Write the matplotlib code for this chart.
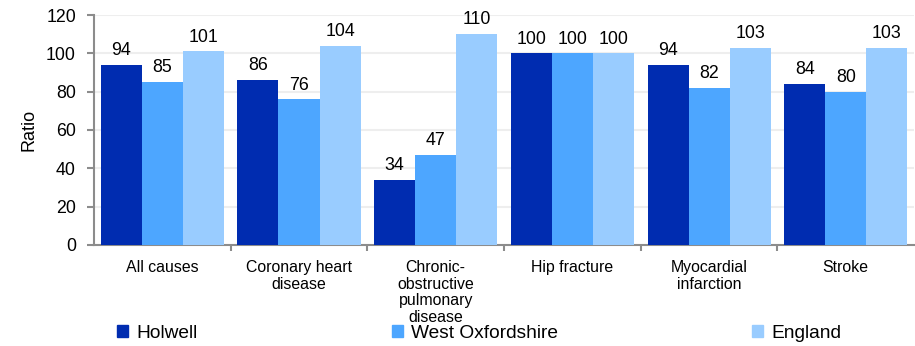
import matplotlib.pyplot as plt
import numpy as np
from matplotlib.patches import Patch

plt.rcParams['font.family'] = ['Liberation Sans', 'DejaVu Sans']

categories = ["All causes", "Coronary heart\ndisease", "Chronic-\nobstructive\npulmonary\ndisease",
              "Hip fracture", "Myocardial\ninfarction", "Stroke"]
series_names = ["Holwell", "West Oxfordshire", "England"]
holwell = [94, 86, 34, 100, 94, 84]
west_oxon = [85, 76, 47, 100, 82, 80]
england = [101, 104, 110, 100, 103, 103]
y_ticks = [0, 20, 40, 60, 80, 100, 120]

colours = ["#002CB0", "#4DA6FF", "#99CCFF"]
axis_grey = "#8C8C8C"

fig = plt.figure(figsize=(9.15, 3.46), dpi=100)
ax = fig.add_axes([0.1027, 0.292, 0.8963, 0.6646])

x = np.arange(len(categories))
width = 0.3
for i, (vals, col) in enumerate(zip([holwell, west_oxon, england], colours)):
    pos = x + (i - 1) * width
    ax.bar(pos, vals, width, color=col, zorder=3)
    for p, v in zip(pos, vals):
        ax.text(p, v + 3, str(v), ha='center', va='bottom', fontsize=12.8, zorder=4)

ax.set_xlim(-0.5, len(categories) - 0.5)
ax.set_ylim(0, 120)
ax.set_yticks(y_ticks)
ax.tick_params(axis='y', labelsize=12.8, length=5, color=axis_grey, width=1.5, pad=8)
ax.set_ylabel("Ratio", fontsize=13, labelpad=6)

ax.set_xticks(x)
ax.set_xticklabels(categories, fontsize=11.4, linespacing=1.12, va='top')
ax.tick_params(axis='x', which='major', length=0, pad=11)
ax.set_xticks(np.arange(0.5, len(categories) - 0.5, 1), minor=True)
ax.tick_params(axis='x', which='minor', length=4, color=axis_grey, width=1.5)

ax.grid(axis='y', color='#EEEEEE', linewidth=1.5, zorder=0)
for side in ['top', 'right']:
    ax.spines[side].set_visible(False)
for side in ['left', 'bottom']:
    ax.spines[side].set_color(axis_grey)
    ax.spines[side].set_linewidth(1.5)

# three separate legend entries spread along the bottom
legend_x = [0.128, 0.428, 0.822]
for name, col, lx in zip(series_names, colours, legend_x):
    fig.legend(handles=[Patch(color=col)], labels=[name], loc='center left',
               bbox_to_anchor=(lx, 0.037), frameon=False, fontsize=13.8,
               handlelength=0.57, handleheight=0.57, handletextpad=0.42,
               borderpad=0, borderaxespad=0)

fig.savefig("out.png", dpi=100)
